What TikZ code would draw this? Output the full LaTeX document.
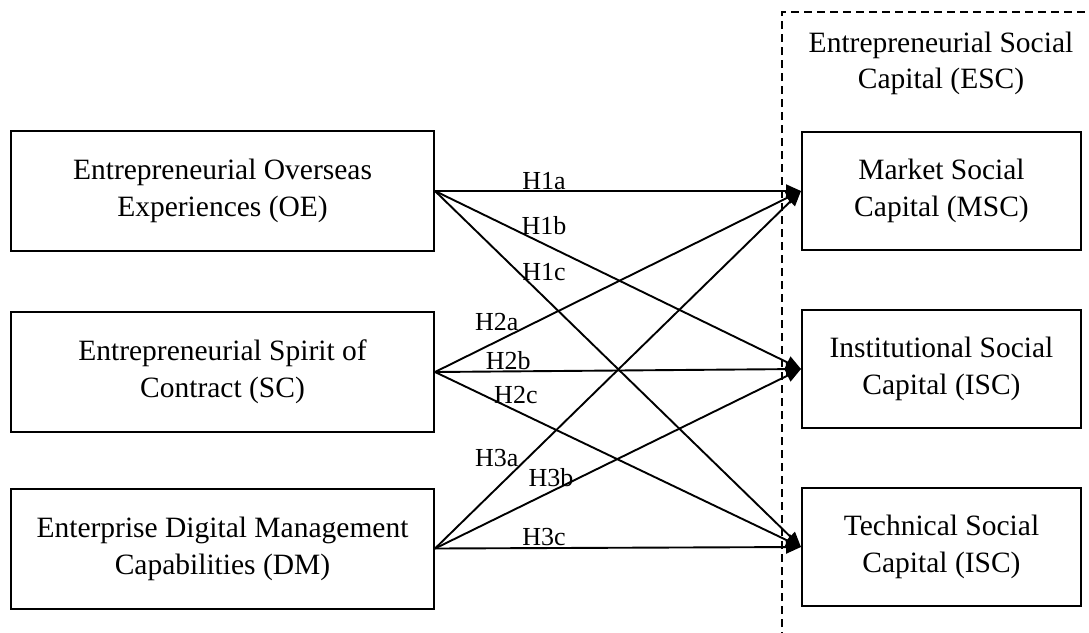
\documentclass[tikz,border=0pt]{standalone}
\usepackage{fontspec}
\setmainfont{Liberation Serif}
\usetikzlibrary{arrows.meta}
\begin{document}
\begin{tikzpicture}[x=1pt,y=-1pt,
  box/.style={draw, line width=2pt, align=center, inner sep=0pt,
    font=\fontsize{29.5}{37}\selectfont},
  lbox/.style={box, minimum width=423pt, minimum height=120pt},
  rbox/.style={box, minimum width=279pt, minimum height=118pt},
  arr/.style={line width=1.9pt, -{Triangle[length=15pt,width=13pt]}},
  lab/.style={inner sep=0pt, font=\fontsize{26}{30}\selectfont},
  grp/.style={line width=2pt, dash pattern=on 8pt off 5pt}
]
\useasboundingbox (0,0) rectangle (1089,632);
\draw[grp] (782,640) -- (782,12) -- (1095,12);
\node[align=center, inner sep=0pt, font=\fontsize{29.5}{36}\selectfont] (esc) at (941,63) {Entrepreneurial Social\\Capital (ESC)};

\node[lbox] (oe) at (222.5,191) {Entrepreneurial Overseas\\Experiences (OE)};
\node[lbox] (sc) at (222.5,372) {Entrepreneurial Spirit of\\Contract (SC)};
\node[lbox] (dm) at (222.5,548.5) {Enterprise Digital Management\\Capabilities (DM)};

\node[rbox] (msc) at (941.5,191) {Market Social\\Capital (MSC)};
\node[rbox] (isc) at (941.5,369) {Institutional Social\\Capital (ISC)};
\node[rbox] (tsc) at (941.5,547) {Technical Social\\Capital (ISC)};

\draw[arr] (oe.east) -- node[lab,pos=0.298,yshift=10pt] (l1a) {H1a} (msc.west);
\draw[arr] (oe.east) -- node[lab,pos=0.298,yshift=18pt] (l1b) {H1b} (isc.west);
\draw[arr] (oe.east) -- node[lab,pos=0.298,yshift=25pt] (l1c) {H1c} (tsc.west);

\draw[arr] (sc.east) -- node[lab,pos=0.169,yshift=19pt] (l2a) {H2a} (msc.west);
\draw[arr] (sc.east) -- node[lab,pos=0.2,yshift=11pt] (l2b) {H2b} (isc.west);
\draw[arr] (sc.east) -- node[lab,pos=0.221,yshift=16pt] (l2c) {H2c} (tsc.west);

\draw[arr] (dm.east) -- node[lab,pos=0.169,yshift=30pt] (l3a) {H3a} (msc.west);
\draw[arr] (dm.east) -- node[lab,pos=0.317,yshift=14pt] (l3b) {H3b} (isc.west);
\draw[arr] (dm.east) -- node[lab,pos=0.298,yshift=11pt] (l3c) {H3c} (tsc.west);
\end{tikzpicture}
\end{document}
